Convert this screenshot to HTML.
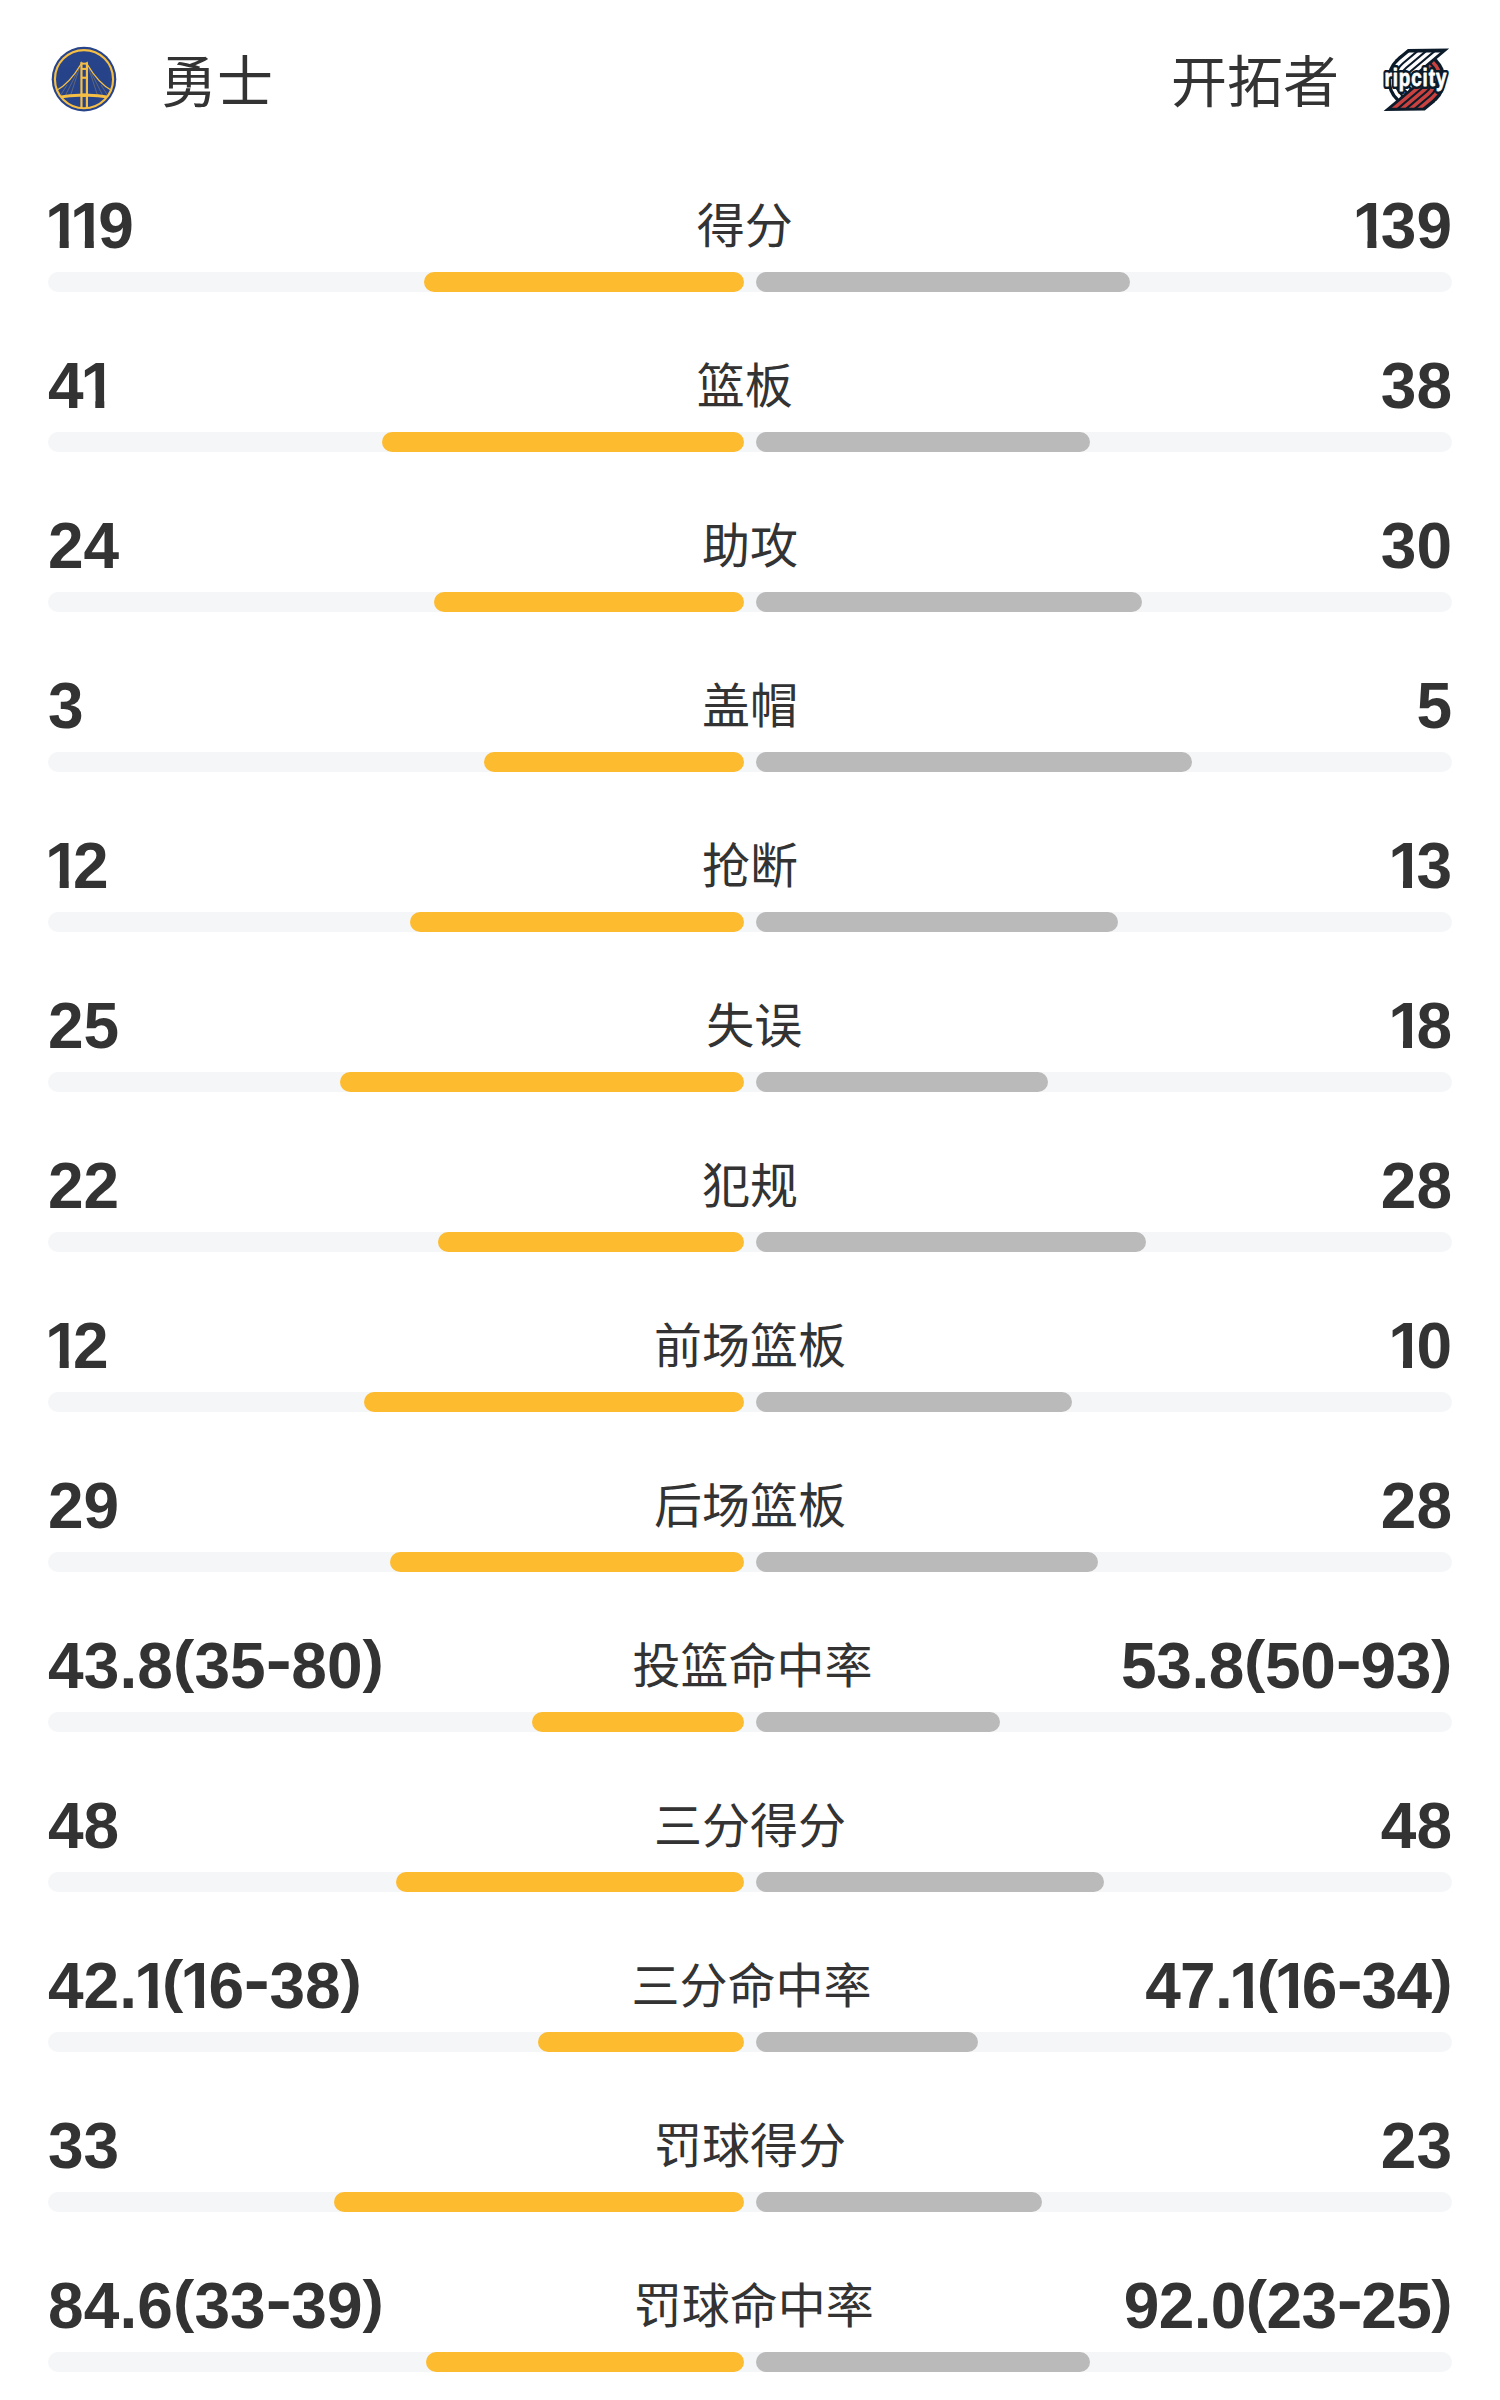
<!DOCTYPE html><html lang="zh-CN"><head><meta charset="utf-8"><title>技术统计</title><style>
*{margin:0;padding:0;box-sizing:border-box}
html,body{width:1500px;height:2400px;background:#fff;overflow:hidden}
body{position:relative;font-family:"Liberation Sans","Noto Sans CJK SC",sans-serif;color:#333}
.team{position:absolute;top:42.5px;height:80px;line-height:80px;font-size:56px;white-space:nowrap;color:#333}
.team.l{left:161px}
.team.r{right:161px}
.logo{position:absolute}
.row{position:absolute;left:0;width:1500px;height:160px}
.fx{position:absolute;left:48px;width:1404px;top:0;height:80px;display:flex;justify-content:space-between;align-items:flex-start}
.v{position:relative;top:1px;height:80px;line-height:80px;font-size:64px;font-weight:bold;white-space:nowrap;color:#333}
.o{display:inline-block;margin-left:-3.1px;margin-right:-7.4px;clip-path:polygon(3px 0,23.8px 0,23.8px 100%,14.8px 100%,14.8px 55%,3px 55%)}
.p{display:inline-block;transform-origin:50% 0;transform:translateY(0.5px) scaleY(.885)}
.h{display:inline-block;transform:translateY(-6.5px) scaleX(1.22);margin:0 2px}
.lab{position:relative;top:1.7px;height:80px;line-height:80px;white-space:nowrap;font-size:48px;color:#333}
.track{position:absolute;left:48px;width:1404px;top:87px;height:20px;border-radius:10px;background:#f5f6f8}
.y{position:absolute;right:708px;top:0;height:20px;border-radius:10px;background:#fdbb30}
.g{position:absolute;left:708px;top:0;height:20px;border-radius:10px;background:#bababa}
</style></head><body>
<svg class="logo" style="left:49px;top:44px" width="70" height="70" viewBox="0 0 1500 1500">
<defs><clipPath id="wc"><circle cx="750" cy="753" r="625"/></clipPath></defs>
<circle cx="750" cy="753" r="692" fill="#27448b"/>
<g clip-path="url(#wc)" fill="#f5be45" stroke="none">
<g fill="none" stroke="#f5be45" stroke-linecap="round">
<path d="M690 425 Q440 850 150 1000" stroke-width="26"/>
<path d="M812 425 Q1062 850 1352 1000" stroke-width="26"/>
<g stroke-width="11" opacity=".55">
<path d="M650 520 L470 1075"/><path d="M585 640 L360 1085"/><path d="M385 880 L250 1095"/>
<path d="M852 520 L1032 1075"/><path d="M917 640 L1142 1085"/><path d="M1117 880 L1252 1095"/>
</g>
<path d="M150 1150 Q750 1035 1352 1150" stroke-width="62" stroke-linecap="butt"/>
</g>
<rect x="672" y="392" width="47" height="1010"/><rect x="789" y="392" width="47" height="1010"/>
<path d="M672 400 L690 372 L706 400 Z M802 400 L818 372 L836 400 Z"/>
<rect x="700" y="400" width="110" height="42"/><rect x="700" y="512" width="110" height="44"/><rect x="700" y="700" width="110" height="46"/><rect x="700" y="1065" width="110" height="70"/>
</g>
<circle cx="750" cy="753" r="623" fill="none" stroke="#f5be45" stroke-width="46"/>
</svg>
<div class="team l">勇士</div>
<div class="team r">开拓者</div>
<svg class="logo" style="left:1378px;top:42px" width="76" height="76" viewBox="0 0 1500 1500"><defs><clipPath id="bt"><rect x="0" y="207" width="1500" height="1090"/></clipPath></defs><circle cx="757" cy="745" r="574" fill="#0c1b2a"/><path d="M388.0 305.3 L589.8 136.0 L1404.4 130.0 L721.6 702.9Z M1126.0 1184.7 L924.2 1354.0 L109.6 1360.0 L792.4 787.1Z" fill="#0c1b2a"/><g clip-path="url(#bt)"><path d="M1602.0 -581.5 L453.0 382.7 A473 473 0 0 0 432.5 1089.1" fill="none" stroke="#ffffff" stroke-width="67"/><path d="M-88.0 2071.5 L1061.0 1107.3 A473 473 0 0 0 1081.5 400.9" fill="none" stroke="#c9423f" stroke-width="67"/><path d="M1672.1 -498.0 L523.0 466.2 A364 364 0 0 0 516.7 1018.4" fill="none" stroke="#ffffff" stroke-width="67"/><path d="M-158.1 1988.0 L991.0 1023.8 A364 364 0 0 0 997.3 471.6" fill="none" stroke="#c9423f" stroke-width="67"/><path d="M1742.2 -414.5 L593.1 549.7 A255 255 0 0 0 601.6 947.2" fill="none" stroke="#ffffff" stroke-width="67"/><path d="M-228.2 1904.5 L920.9 940.3 A255 255 0 0 0 912.4 542.8" fill="none" stroke="#c9423f" stroke-width="67"/><path d="M1812.2 -331.0 L663.2 633.2 A146 146 0 0 0 688.8 874.1" fill="none" stroke="#ffffff" stroke-width="67"/><path d="M-298.2 1821.0 L850.8 856.8 A146 146 0 0 0 825.2 615.9" fill="none" stroke="#c9423f" stroke-width="67"/></g><g transform="translate(748 860) scale(.765 1)"><text font-family="Liberation Sans,sans-serif" font-weight="bold" font-size="485" text-anchor="middle" stroke-linejoin="round" letter-spacing="24" fill="#0c1b2a" stroke="#0c1b2a" stroke-width="123">ripcity</text><text font-family="Liberation Sans,sans-serif" font-weight="bold" font-size="485" text-anchor="middle" stroke-linejoin="round" letter-spacing="24" fill="#ffffff" stroke="#ffffff" stroke-width="15" aria-hidden="true">ripcity</text></g></svg>
<div class="row" style="top:185px"><div class="fx"><div class="v"><span class="o">1</span><span class="o">1</span>9</div><div class="lab">得分</div><div class="v"><span class="o">1</span>39</div></div><div class="track"><div class="y" style="width:320px"></div><div class="g" style="width:374px"></div></div></div>
<div class="row" style="top:345px"><div class="fx"><div class="v">4<span class="o">1</span></div><div class="lab">篮板</div><div class="v">38</div></div><div class="track"><div class="y" style="width:362px"></div><div class="g" style="width:334px"></div></div></div>
<div class="row" style="top:505px"><div class="fx"><div class="v">24</div><div class="lab">助攻</div><div class="v">30</div></div><div class="track"><div class="y" style="width:310px"></div><div class="g" style="width:386px"></div></div></div>
<div class="row" style="top:665px"><div class="fx"><div class="v">3</div><div class="lab">盖帽</div><div class="v">5</div></div><div class="track"><div class="y" style="width:260px"></div><div class="g" style="width:436px"></div></div></div>
<div class="row" style="top:825px"><div class="fx"><div class="v"><span class="o">1</span>2</div><div class="lab">抢断</div><div class="v"><span class="o">1</span>3</div></div><div class="track"><div class="y" style="width:334px"></div><div class="g" style="width:362px"></div></div></div>
<div class="row" style="top:985px"><div class="fx"><div class="v">25</div><div class="lab" style="left:-1px">失误</div><div class="v"><span class="o">1</span>8</div></div><div class="track"><div class="y" style="width:404px"></div><div class="g" style="width:292px"></div></div></div>
<div class="row" style="top:1145px"><div class="fx"><div class="v">22</div><div class="lab">犯规</div><div class="v">28</div></div><div class="track"><div class="y" style="width:306px"></div><div class="g" style="width:390px"></div></div></div>
<div class="row" style="top:1305px"><div class="fx"><div class="v"><span class="o">1</span>2</div><div class="lab">前场篮板</div><div class="v"><span class="o">1</span>0</div></div><div class="track"><div class="y" style="width:380px"></div><div class="g" style="width:316px"></div></div></div>
<div class="row" style="top:1465px"><div class="fx"><div class="v">29</div><div class="lab">后场篮板</div><div class="v">28</div></div><div class="track"><div class="y" style="width:354px"></div><div class="g" style="width:342px"></div></div></div>
<div class="row" style="top:1625px"><div class="fx"><div class="v"><span style="letter-spacing:0.1px">43.8<span class="p">(</span>35<span class="h">-</span>80<span class="p">)</span></span></div><div class="lab">投篮命中率</div><div class="v"><span style="letter-spacing:-0.35px">53.8<span class="p">(</span>50<span class="h">-</span>93<span class="p">)</span></span></div></div><div class="track"><div class="y" style="width:212px"></div><div class="g" style="width:244px"></div></div></div>
<div class="row" style="top:1785px"><div class="fx"><div class="v">48</div><div class="lab">三分得分</div><div class="v">48</div></div><div class="track"><div class="y" style="width:348px"></div><div class="g" style="width:348px"></div></div></div>
<div class="row" style="top:1945px"><div class="fx"><div class="v">42.<span class="o">1</span><span class="p">(</span><span class="o">1</span>6<span class="h">-</span>38<span class="p">)</span></div><div class="lab" style="left:-2px">三分命中率</div><div class="v"><span style="letter-spacing:-0.65px">47.<span class="o">1</span><span class="p">(</span><span class="o">1</span>6<span class="h">-</span>34<span class="p">)</span></span></div></div><div class="track"><div class="y" style="width:206px"></div><div class="g" style="width:222px"></div></div></div>
<div class="row" style="top:2105px"><div class="fx"><div class="v">33</div><div class="lab">罚球得分</div><div class="v">23</div></div><div class="track"><div class="y" style="width:410px"></div><div class="g" style="width:286px"></div></div></div>
<div class="row" style="top:2265px"><div class="fx"><div class="v"><span style="letter-spacing:0.1px">84.6<span class="p">(</span>33<span class="h">-</span>39<span class="p">)</span></span></div><div class="lab">罚球命中率</div><div class="v"><span style="letter-spacing:-0.6px">92.0<span class="p">(</span>23<span class="h">-</span>25<span class="p">)</span></span></div></div><div class="track"><div class="y" style="width:318px"></div><div class="g" style="width:334px"></div></div></div>
</body></html>
